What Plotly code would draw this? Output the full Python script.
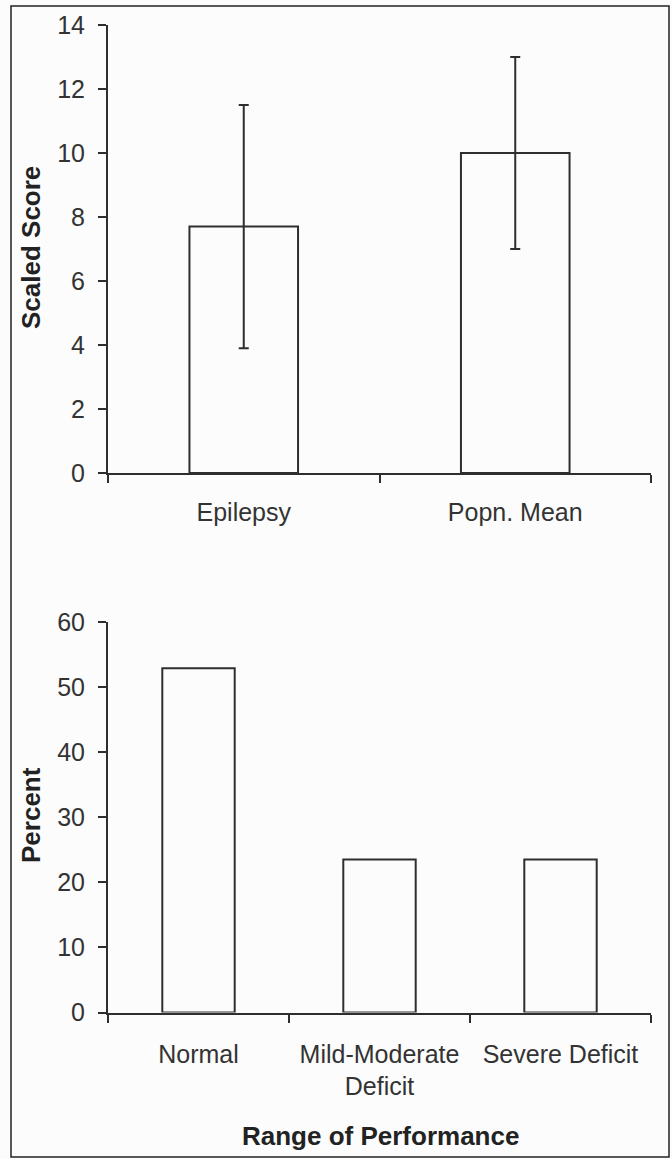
import plotly.graph_objects as go

# Scaled score: group mean with spread
score_groups = ["Epilepsy", "Popn. Mean"]
score_means = [7.7, 10.0]
score_err = [3.8, 3.0]
score_ticks = [0, 2, 4, 6, 8, 10, 12, 14]

# Distribution over performance ranges
range_labels = ["Normal", "Mild-Moderate<br>Deficit", "Severe Deficit"]
range_percent = [52.9, 23.5, 23.5]
percent_ticks = [0, 10, 20, 30, 40, 50, 60]

W, H = 672, 1159
INK = "#2e2e2e"
TEXT = "#333333"
FONT = "Liberation Sans, Arial, sans-serif"


def px_x(p):
    return p / W


def px_y(p):
    return 1 - p / H


fig = go.Figure()

fig.add_trace(go.Bar(
    x=score_groups, y=score_means,
    marker=dict(color="rgba(255,255,255,0)", line=dict(color=INK, width=2)),
    error_y=dict(type="data", array=score_err, visible=True,
                 color=INK, thickness=2, width=5),
    xaxis="x", yaxis="y", showlegend=False,
))

fig.add_trace(go.Bar(
    x=range_labels, y=range_percent,
    marker=dict(color="rgba(255,255,255,0)", line=dict(color=INK, width=2)),
    xaxis="x2", yaxis="y2", showlegend=False,
))

axis_common = dict(
    showline=True, linecolor=INK, linewidth=2,
    ticks="outside", ticklen=8, tickwidth=2, tickcolor=INK,
    showgrid=False, zeroline=False, automargin=False,
    tickfont=dict(family=FONT, size=25, color=TEXT),
)

title_font = dict(family=FONT, size=26, color="#222222")

fig.update_layout(
    width=W, height=H,
    margin=dict(l=0, r=0, t=0, b=0),
    paper_bgcolor="#fcfcfc", plot_bgcolor="#fcfcfc",
    bargap=0.6,
    xaxis=dict(domain=[px_x(108), px_x(651)], anchor="y",
               tickson="boundaries", ticklabelstandoff=16, **axis_common),
    yaxis=dict(domain=[px_y(473), px_y(25)], anchor="x",
               range=[0, 14], tickvals=score_ticks, ticklabelstandoff=8,
               **axis_common),
    xaxis2=dict(domain=[px_x(108), px_x(651)], anchor="y2",
                tickson="boundaries", ticklabelstandoff=18, **axis_common),
    yaxis2=dict(domain=[px_y(1012.5), px_y(622)], anchor="x2",
                range=[0, 60], tickvals=percent_ticks, ticklabelstandoff=8,
                **axis_common),
    annotations=[
        dict(text="<b>Scaled Score</b>", x=px_x(31), y=px_y(248),
             xref="paper", yref="paper", xanchor="center", yanchor="middle",
             textangle=-90, showarrow=False, font=title_font),
        dict(text="<b>Percent</b>", x=px_x(31), y=px_y(815),
             xref="paper", yref="paper", xanchor="center", yanchor="middle",
             textangle=-90, showarrow=False, font=title_font),
        dict(text="<b>Range of Performance</b>", x=px_x(380), y=px_y(1136),
             xref="paper", yref="paper", xanchor="center", yanchor="middle",
             showarrow=False, font=title_font),
    ],
    shapes=[
        dict(type="rect", xref="paper", yref="paper",
             x0=px_x(11), x1=px_x(669), y0=px_y(1157), y1=px_y(6),
             line=dict(color="#222222", width=1.5)),
    ],
)

fig.write_html("out.html")
